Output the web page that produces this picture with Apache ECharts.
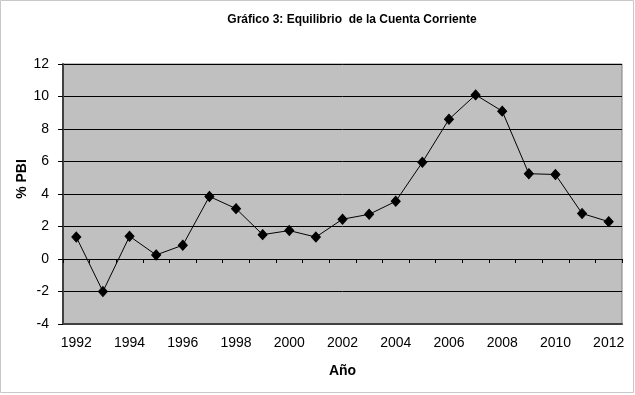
<!DOCTYPE html>
<html>
<head>
<meta charset="utf-8">
<script src="https://cdn.jsdelivr.net/npm/echarts@6/dist/echarts.min.js"></script>
<style>
html,body{margin:0;padding:0;background:#fff;}
#chart{width:635px;height:395px;}
</style>
</head>
<body>
<div id="chart"></div>
<script>
const years = ['1992','1993','1994','1995','1996','1997','1998','1999','2000','2001','2002','2003','2004','2005','2006','2007','2008','2009','2010','2011','2012'];
const balance = [1.35,-2.0,1.4,0.25,0.85,3.85,3.1,1.5,1.75,1.35,2.45,2.75,3.55,5.95,8.6,10.1,9.1,5.25,5.2,2.8,2.3];
const titleText = 'Gráfico 3: Equilibrio  de la Cuenta Corriente';
const yName = '% PBI';
const xName = 'Año';

const chart = echarts.init(document.getElementById('chart'), null, {renderer:'canvas'});
const font = 'Arial, "Liberation Sans", sans-serif';
chart.setOption({
  animation:false,
  backgroundColor:'#ffffff',
  textStyle:{fontFamily:font},
  title:{
    text:titleText,
    left:347, top:9, textAlign:'center',
    textStyle:{fontSize:12, fontWeight:'bold', color:'#000', fontFamily:font}
  },
  graphic:[
    {type:'rect', shape:{x:0.5,y:0.5,width:633,height:392}, style:{fill:'none', stroke:'#c8c8c8', lineWidth:1}, silent:true, z:-1},
    {type:'text', x:22, y:179, rotation:Math.PI/2, style:{text:yName, font:'bold 14px Arial, "Liberation Sans", sans-serif', fill:'#000', textAlign:'center', textVerticalAlign:'middle'}}
  ],
  grid:{left:63, top:64, width:559, height:260, show:true, backgroundColor:'#c0c0c0', borderColor:'#808080', borderWidth:1},
  xAxis:[
    {
      type:'category', data:years, position:'bottom', boundaryGap:true,
      axisLine:{show:true, onZero:false, lineStyle:{color:'#404040', width:2}},
      axisTick:{show:false},
      axisLabel:{interval:1, color:'#000', fontSize:14, margin:12, fontFamily:font},
      name:xName, nameLocation:'middle', nameGap:40,
      nameTextStyle:{fontSize:14, fontWeight:'bold', color:'#000', fontFamily:font},
      splitLine:{show:false}
    },
    {
      type:'category', data:years, position:'top', boundaryGap:true,
      axisLine:{show:true, onZero:true, lineStyle:{color:'#000', width:1}},
      axisTick:{show:true, inside:true, length:4, interval:0, lineStyle:{color:'#000'}},
      axisLabel:{show:false},
      splitLine:{show:false}
    }
  ],
  yAxis:{
    type:'value', min:-4, max:12, interval:2,
    axisLine:{show:true, lineStyle:{color:'#404040', width:2}},
    axisTick:{show:true, length:5, lineStyle:{color:'#000'}},
    axisLabel:{color:'#000', fontSize:14, margin:14, fontFamily:font},
    splitLine:{show:true, lineStyle:{color:'#000', width:1}}
  },
  series:[{
    type:'line', data:balance, xAxisIndex:0, yAxisIndex:0,
    symbol:'diamond', symbolSize:[9,10], showAllSymbol:true,
    lineStyle:{color:'#000', width:1},
    itemStyle:{color:'#000', borderColor:'#000'},
    z:5
  }]
});
</script>
</body>
</html>
